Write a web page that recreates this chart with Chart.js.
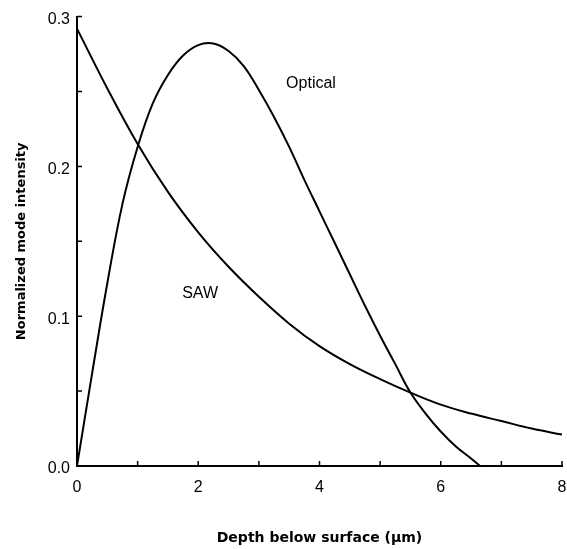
<!DOCTYPE html>
<html lang="en">
<head>
    <meta charset="UTF-8">
    <title>Normalized mode intensity vs depth</title>
    <script src="https://cdn.jsdelivr.net/npm/chart.js"></script>
    <style>
        body { margin: 0; background: #fff; }
        #wrap { width: 567px; height: 549px; }
    </style>
</head>
<body>
    <div id="wrap"><canvas id="modeChart"></canvas></div>

    <script>
        // Depth values (um) and curves
        const depthOptical = [0, 0.25, 0.5, 0.75, 1, 1.25, 1.5, 1.75, 2, 2.25, 2.5, 2.75, 3, 3.25, 3.5, 3.75, 4, 4.25, 4.5, 4.75, 5, 5.25, 5.5, 5.75, 6, 6.25, 6.5, 6.65];
        const optical = [0, 0.062, 0.122, 0.175, 0.213, 0.242, 0.261, 0.274, 0.281, 0.282, 0.277, 0.267, 0.251, 0.233, 0.213, 0.191, 0.170, 0.149, 0.128, 0.107, 0.087, 0.068, 0.049, 0.035, 0.023, 0.013, 0.005, 0];

        const depthSaw = [0, 0.5, 1, 1.5, 2, 2.5, 3, 3.5, 4, 4.5, 5, 5.5, 6, 6.5, 7, 7.5, 8];
        const saw = [0.292, 0.252, 0.215, 0.183, 0.156, 0.133, 0.113, 0.095, 0.080, 0.068, 0.058, 0.049, 0.041, 0.035, 0.030, 0.025, 0.021];

        // curve labels placed in data coordinates
        const curveLabels = [
            { text: 'Optical', x: 3.86, y: 0.255 },
            { text: 'SAW', x: 2.03, y: 0.115 }
        ];

        const toPoints = (xs, ys) => xs.map((x, i) => ({ x: x, y: ys[i] }));

        // inward tick marks + curve labels
        const inwardTicks = {
            id: 'inwardTicks',
            afterDraw(chart) {
                const ctx = chart.ctx;
                const xs = chart.scales.x, ys = chart.scales.y;
                const area = chart.chartArea;
                ctx.save();
                ctx.strokeStyle = '#000';
                ctx.lineWidth = 1.5;
                ctx.beginPath();
                xs.ticks.forEach(t => {
                    const px = xs.getPixelForValue(t.value);
                    ctx.moveTo(px, area.bottom);
                    ctx.lineTo(px, area.bottom - 5);
                });
                ys.ticks.forEach(t => {
                    const py = ys.getPixelForValue(t.value);
                    ctx.moveTo(area.left, py);
                    ctx.lineTo(area.left + 5, py);
                });
                ctx.stroke();

                ctx.fillStyle = '#000';
                ctx.font = '16px "Liberation Sans", Arial, sans-serif';
                ctx.textAlign = 'center';
                ctx.textBaseline = 'middle';
                curveLabels.forEach(l => {
                    ctx.fillText(l.text, xs.getPixelForValue(l.x), ys.getPixelForValue(l.y));
                });
                ctx.restore();
            }
        };

        const tickFont = { family: '"Liberation Sans", Arial, sans-serif', size: 16 };
        const titleFont = { family: '"DejaVu Sans", sans-serif', size: 13, weight: 'bold' };

        new Chart(document.getElementById('modeChart'), {
            type: 'scatter',
            data: {
                datasets: [{
                    label: 'Optical',
                    data: toPoints(depthOptical, optical),
                    showLine: true,
                    borderColor: '#000',
                    borderWidth: 2,
                    pointRadius: 0,
                    tension: 0.4
                }, {
                    label: 'SAW',
                    data: toPoints(depthSaw, saw),
                    showLine: true,
                    borderColor: '#000',
                    borderWidth: 2,
                    pointRadius: 0,
                    tension: 0.4
                }]
            },
            options: {
                responsive: true,
                maintainAspectRatio: false,
                animation: false,
                layout: { padding: { top: 16, right: 5, left: 0, bottom: 0 } },
                plugins: {
                    legend: { display: false },
                    tooltip: { enabled: false }
                },
                scales: {
                    x: {
                        type: 'linear',
                        min: 0,
                        max: 8,
                        afterFit: s => {
                            s.height = 83;
                            s.paddingLeft = 0;
                            s.paddingRight = 0;
                        },
                        border: { display: true, color: '#000', width: 2 },
                        grid: { display: true, drawOnChartArea: false, drawTicks: false },
                        ticks: {
                            stepSize: 1,
                            padding: 12,
                            color: '#000',
                            font: tickFont,
                            maxRotation: 0,
                            autoSkip: false,
                            callback: v => (v % 2 === 0 ? String(v) : '')
                        },
                        title: {
                            display: true,
                            text: 'Depth below surface (\u03bcm)',
                            color: '#000',
                            font: { family: '"DejaVu Sans", sans-serif', size: 14, weight: 'bold' },
                            padding: { top: 0, bottom: 2 }
                        }
                    },
                    y: {
                        min: 0,
                        max: 0.3,
                        afterFit: s => { s.width = 77; },
                        border: { display: true, color: '#000', width: 2 },
                        grid: { display: true, drawOnChartArea: false, drawTicks: false },
                        ticks: {
                            stepSize: 0.05,
                            padding: 7,
                            labelOffset: 3,
                            color: '#000',
                            font: tickFont,
                            autoSkip: false,
                            callback: v => (Math.round(v * 100) % 10 === 0 ? v.toFixed(1) : '')
                        },
                        title: {
                            display: true,
                            text: 'Normalized mode intensity',
                            color: '#000',
                            font: titleFont,
                            padding: { top: 14, bottom: 0 }
                        }
                    }
                }
            },
            plugins: [inwardTicks]
        });
    </script>
</body>
</html>
